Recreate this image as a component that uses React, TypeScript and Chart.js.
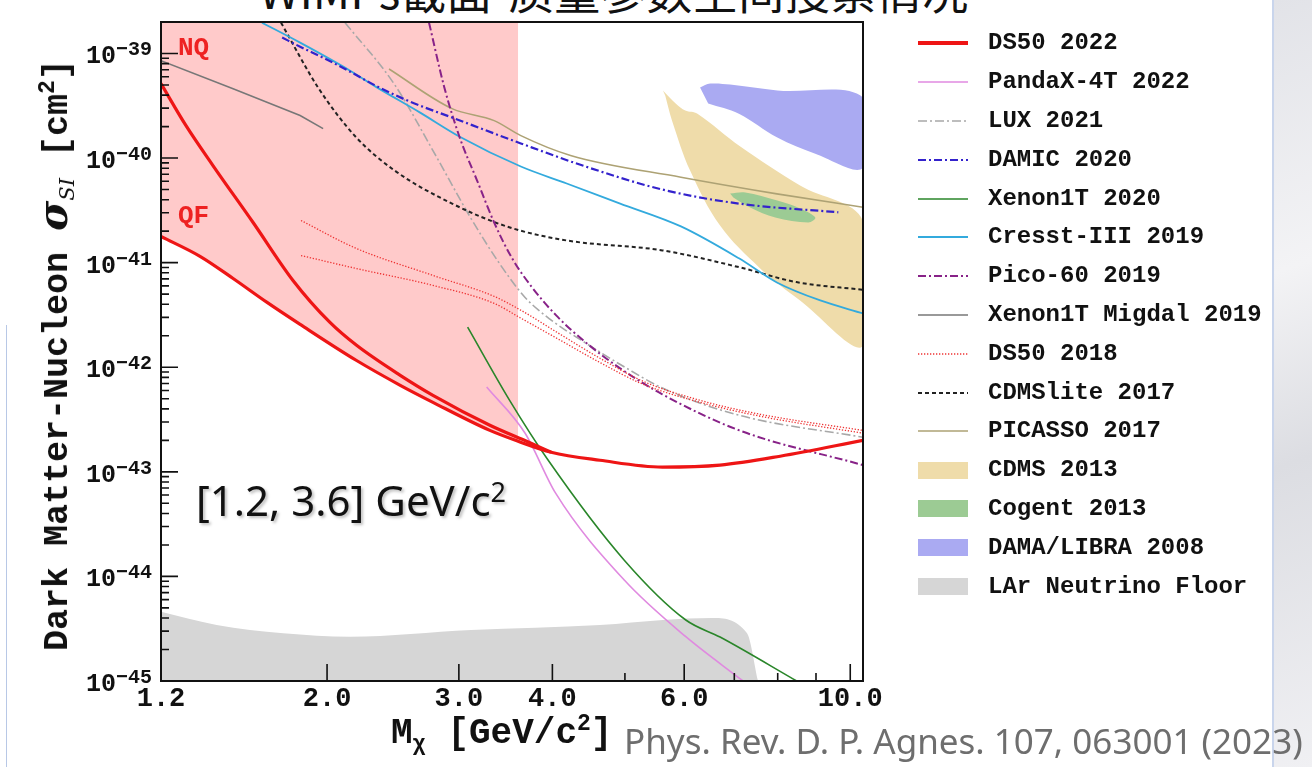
import React, { useEffect, useRef } from "react";
import { Chart, registerables } from "chart.js";

Chart.register(...registerables);

// ---------------- axes ----------------
const xTickValues = [1.2, 2.0, 3.0, 4.0, 6.0, 10.0];
const xTickLabels = ["1.2", "2.0", "3.0", "4.0", "6.0", "10.0"];
const xMinorTickValues = [5, 7, 8, 9];
const yDecadeExponents = [-45, -44, -43, -42, -41, -40, -39];
const xMin = 1.2;
const xMax = 10.4;
const yMin = 1e-45;
const yMax = 2e-39;

// ---------------- DS50 2022 (two quenching models) ----------------
const ds50NqMass = [1.2, 1.296, 1.408, 1.593, 1.801, 2.018, 2.19, 2.505, 2.77, 3.3, 3.72, 3.985];
const ds50NqSigma = [5.15e-40, 2.04e-40, 8.48e-41, 2.42e-41, 6.76e-42, 2.68e-42, 1.62e-42, 8.37e-43, 5.39e-43, 2.79e-43, 1.92e-43, 1.54e-43];
const ds50QfMass = [1.2, 1.353, 1.498, 1.663, 1.841, 2.19, 2.505, 2.77, 3.3, 3.6, 3.985, 4.63, 5.61, 6.7, 8.06, 10.4];
const ds50QfSigma = [1.78e-41, 1.15e-41, 7.06e-42, 4.17e-42, 2.57e-42, 1.16e-42, 6.72e-43, 4.62e-43, 2.49e-43, 1.96e-43, 1.54e-43, 1.29e-43, 1.11e-43, 1.16e-43, 1.41e-43, 2.0e-43];
const ds50ShadeMaxMass = 3.6;

// ---------------- other limits ----------------
const pandaxMass = [3.268, 3.678, 4.04, 4.99, 6.03, 7.19];
const pandaxSigma = [6.47e-43, 2.34e-43, 6.25e-44, 9.23e-45, 2.65e-45, 1e-45];

const luxMass = [2.114, 2.462, 2.77, 3.115, 3.406, 3.678, 3.973, 4.44, 5.003, 5.62, 7.11, 10.4];
const luxSigma = [1.97e-39, 5.04e-40, 1.18e-40, 2.64e-41, 9.61e-42, 4.65e-42, 2.87e-42, 1.69e-42, 9.97e-43, 6.29e-43, 3.47e-43, 2.14e-43];

const damicMass = [1.742, 1.841, 1.988, 2.147, 2.322, 2.582, 2.938, 3.63, 4.43, 5.61, 7.1, 9.64];
const damicSigma = [1.42e-39, 1.16e-39, 8.92e-40, 6.7e-40, 4.93e-40, 3.46e-40, 2.44e-40, 1.38e-40, 8.3e-41, 5.0e-41, 3.67e-41, 3.03e-41];

const xenon1tMass = [3.082, 3.507, 3.949, 4.99, 6.03, 6.7, 8.48];
const xenon1tSigma = [2.42e-42, 4.83e-43, 1.29e-43, 1.43e-44, 3.83e-45, 2.63e-45, 1e-45];

const cresstMass = [1.637, 1.841, 2.147, 2.322, 2.663, 3.008, 3.63, 4.18, 4.927, 5.94, 7.1, 7.98, 9.12, 10.4];
const cresstSigma = [1.97e-39, 1.27e-39, 6.85e-40, 4.82e-40, 2.72e-40, 1.6e-40, 8.3e-41, 5.71e-41, 3.67e-41, 2.22e-41, 1.1e-41, 6.47e-42, 4.35e-42, 3.27e-42];

const picoMass = [2.737, 2.867, 3.008, 3.173, 3.344, 3.534, 3.758, 4.047, 4.397, 4.927, 5.61, 7.11, 10.4];
const picoSigma = [1.97e-39, 4.82e-40, 1.57e-40, 6.1e-41, 2.42e-41, 1.1e-41, 5.8e-42, 3.13e-42, 1.81e-42, 9.76e-43, 5.51e-43, 2.49e-43, 1.16e-43];

const migdalMass = [1.2, 1.498, 1.841, 1.976];
const migdalSigma = [8.53e-40, 4.61e-40, 2.55e-40, 1.91e-40];

const ds50_2018Mass = [1.846, 2.187, 2.77, 3.344, 3.635, 4.1, 4.63, 5.29, 6.3, 7.58, 10.4];
const ds50_2018SigmaA = [2.53e-41, 1.37e-41, 7.55e-42, 4.76e-42, 3.49e-42, 2.06e-42, 1.22e-42, 7.33e-43, 4.83e-43, 3.55e-43, 2.49e-43];
const ds50_2018SigmaB = [1.17e-41, 8.8e-42, 6.06e-42, 4.08e-42, 2.93e-42, 1.81e-42, 1.11e-42, 6.87e-43, 4.62e-43, 3.4e-43, 2.34e-43];

const cdmsliteMass = [1.736, 1.945, 2.187, 2.462, 2.938, 3.502, 4.18, 5.61, 7.1, 8.47, 10.4];
const cdmsliteSigma = [1.97e-39, 4.74e-40, 1.58e-40, 7.6e-41, 3.67e-41, 2.18e-41, 1.63e-41, 1.31e-41, 9.06e-42, 6.52e-42, 5.5e-42];

const picassoMass = [2.42, 2.938, 3.344, 3.63, 4.23, 5.94, 7.98, 10.4];
const picassoSigma = [7.11e-40, 2.97e-40, 2.28e-40, 1.64e-40, 1.06e-40, 6.56e-41, 4.55e-41, 3.39e-41];

// ---------------- contour regions (closed outlines) ----------------
const cdms2013Mass = [5.62, 5.85, 6.02, 6.25, 7.13, 8.57, 10.4, 10.4, 8.57, 7.58, 6.7, 6.11, 5.78, 5.66];
const cdms2013Sigma = [4.42e-40, 3.31e-40, 2.85e-40, 2.66e-40, 1.29e-40, 5.46e-41, 2.5e-41, 1.6e-42, 4.35e-42, 8.81e-42, 2.26e-41, 7.6e-41, 2.28e-40, 3.96e-40];

const cogentMass = [6.91, 7.24, 7.99, 8.57, 8.98, 8.79, 7.94, 7.35, 6.98];
const cogentSigma = [4.58e-41, 4.69e-41, 3.93e-41, 3.3e-41, 2.7e-41, 2.42e-41, 2.7e-41, 3.37e-41, 4.2e-41];

const damaMass = [6.3, 6.5, 6.91, 7.99, 10.4, 10.4, 8.98, 7.99, 7.1, 6.46];
const damaSigma = [4.74e-40, 5.15e-40, 5.04e-40, 4.42e-40, 3.79e-40, 8.1e-41, 1.1e-40, 1.57e-40, 2.66e-40, 3.33e-40];

const larFloorMass = [1.2, 1.424, 1.748, 2.147, 3.115, 4.63, 5.62, 6.54, 7.28, 7.53];
const larFloorSigma = [4.59e-45, 3.43e-45, 2.86e-45, 2.65e-45, 3.07e-45, 3.43e-45, 3.83e-45, 4.0e-45, 2.86e-45, 1e-45];

// ---------------- legend ----------------
const legendLabels = [
  "DS50 2022", "PandaX-4T 2022", "LUX 2021", "DAMIC 2020", "Xenon1T 2020", "Cresst-III 2019",
  "Pico-60 2019", "Xenon1T Migdal 2019", "DS50 2018", "CDMSlite 2017", "PICASSO 2017",
  "CDMS 2013", "Cogent 2013", "DAMA/LIBRA 2008", "LAr Neutrino Floor",
];

// styles (kept apart from the data)
const ST: Record<string, any> = {
  "DS50 2022": { color: "#EE1515", width: 3.2, dash: [], legendWidth: 4 },
  "PandaX-4T 2022": { color: "#E08AE0", width: 1.6, dash: [] },
  "LUX 2021": { color: "#A8A8A8", width: 1.6, dash: [9, 3, 2, 3] },
  "DAMIC 2020": { color: "#3322CC", width: 2.2, dash: [8, 3, 2, 3] },
  "Xenon1T 2020": { color: "#2A862A", width: 1.6, dash: [] },
  "Cresst-III 2019": { color: "#33AADD", width: 1.8, dash: [] },
  "Pico-60 2019": { color: "#882288", width: 2, dash: [8, 3, 2, 3] },
  "Xenon1T Migdal 2019": { color: "#777777", width: 1.6, dash: [] },
  "DS50 2018": { color: "#EE3333", width: 1.3, dash: [1.3, 1.7] },
  "CDMSlite 2017": { color: "#222222", width: 2, dash: [4, 3] },
  "PICASSO 2017": { color: "#ADA274", width: 1.6, dash: [] },
  "CDMS 2013": { box: true, color: "#EFDCAA" },
  "Cogent 2013": { box: true, color: "#9CCB94" },
  "DAMA/LIBRA 2008": { box: true, color: "#AAAAF2" },
  "LAr Neutrino Floor": { box: true, color: "#D6D6D6" },
};

const pts = (xs: number[], ys: number[]) => xs.map((x, i) => ({ x, y: ys[i] }));

function lineDs(label: string, xs: number[], ys: number[], order = 0, mode = "monotone") {
  const s = ST[label];
  return {
    label,
    data: pts(xs, ys),
    borderColor: s.color,
    borderWidth: s.width,
    borderDash: s.dash,
    pointRadius: 0,
    fill: false,
    cubicInterpolationMode: mode,
    tension: mode === "monotone" ? 0.4 : 0,
    capBezierPoints: false,
    order,
  };
}

function areaDs(label: string, xs: number[], ys: number[], fill: any, color: string, order: number, monotone: boolean) {
  return {
    label,
    data: pts(xs, ys),
    borderColor: "transparent",
    borderWidth: 0,
    backgroundColor: color,
    pointRadius: 0,
    fill,
    cubicInterpolationMode: monotone ? "monotone" : "default",
    tension: 0.35,
    capBezierPoints: false,
    order,
  };
}

const axisDecor = {
  id: "axisDecor",
  afterDraw(chart: any) {
    const { ctx, chartArea: a, scales } = chart;
    const x = scales.x;
    const y = scales.y;
    ctx.save();
    ctx.strokeStyle = "#111";
    ctx.lineWidth = 1.6;
    ctx.beginPath();
    for (const v of xTickValues) {
      if (v === xMin) continue;
      const px = x.getPixelForValue(v);
      ctx.moveTo(px, a.bottom);
      ctx.lineTo(px, a.bottom - 17);
    }
    for (const v of xMinorTickValues) {
      const px = x.getPixelForValue(v);
      ctx.moveTo(px, a.bottom);
      ctx.lineTo(px, a.bottom - 8);
    }
    for (const n of yDecadeExponents) {
      const py = y.getPixelForValue(Math.pow(10, n));
      ctx.moveTo(a.left, py);
      ctx.lineTo(a.left + 17, py);
      for (let k = 2; k <= 9; k++) {
        const v = k * Math.pow(10, n);
        if (v >= yMax) break;
        const pm = y.getPixelForValue(v);
        ctx.moveTo(a.left, pm);
        ctx.lineTo(a.left + 8, pm);
      }
    }
    ctx.stroke();
    ctx.lineWidth = 2;
    ctx.strokeRect(a.left, a.top, a.right - a.left, a.bottom - a.top);

    ctx.fillStyle = "#111";
    // x tick labels
    ctx.font = 'bold 27px "Liberation Mono"';
    ctx.textAlign = "center";
    ctx.textBaseline = "alphabetic";
    xTickValues.forEach((v, i) => {
      ctx.fillText(xTickLabels[i], x.getPixelForValue(v), a.bottom + 25);
    });
    // y tick labels 10^n
    ctx.textAlign = "right";
    const rightX = a.left - 9;
    for (const n of yDecadeExponents) {
      const py = y.getPixelForValue(Math.pow(10, n));
      const exp = "\u2212" + String(-n);
      ctx.font = 'bold 20px "Liberation Mono"';
      const w = ctx.measureText(exp).width;
      ctx.fillText(exp, rightX, py + 2);
      ctx.font = 'bold 25px "Liberation Mono"';
      ctx.fillText("10", rightX - w, py + 10);
    }
    ctx.restore();
  },
};

export default function App() {
  const canvasRef = useRef<HTMLCanvasElement>(null);

  useEffect(() => {
    const shadeIdx = ds50QfMass.map((m, i) => i).filter((i) => ds50QfMass[i] <= ds50ShadeMaxMass);
    const datasets: any[] = [
      lineDs("DS50 2022", ds50NqMass, ds50NqSigma, -2),
      lineDs("DS50 2022", ds50QfMass, ds50QfSigma, -2),
      lineDs("PandaX-4T 2022", pandaxMass, pandaxSigma, 1),
      lineDs("LUX 2021", luxMass, luxSigma, 3),
      lineDs("DAMIC 2020", damicMass, damicSigma, 1),
      lineDs("Xenon1T 2020", xenon1tMass, xenon1tSigma, 1),
      lineDs("Cresst-III 2019", cresstMass, cresstSigma, 2),
      lineDs("Pico-60 2019", picoMass, picoSigma, 1),
      lineDs("Xenon1T Migdal 2019", migdalMass, migdalSigma, 1, "default"),
      lineDs("DS50 2018", ds50_2018Mass, ds50_2018SigmaA, 0),
      lineDs("DS50 2018", ds50_2018Mass, ds50_2018SigmaB, 0),
      lineDs("CDMSlite 2017", cdmsliteMass, cdmsliteSigma, 2),
      lineDs("PICASSO 2017", picassoMass, picassoSigma, 2),
      areaDs("DS50 2022 region", shadeIdx.map((i) => ds50QfMass[i]), shadeIdx.map((i) => ds50QfSigma[i]), "end", "#FFCACA", 20, true),
      areaDs("LAr Neutrino Floor", larFloorMass, larFloorSigma, "start", ST["LAr Neutrino Floor"].color, 19, true),
      areaDs("CDMS 2013", cdms2013Mass, cdms2013Sigma, "shape", ST["CDMS 2013"].color, 18, false),
      areaDs("DAMA/LIBRA 2008", damaMass, damaSigma, "shape", ST["DAMA/LIBRA 2008"].color, 17, false),
      areaDs("Cogent 2013", cogentMass, cogentSigma, "shape", ST["Cogent 2013"].color, 16, false),
    ];

    const chart = new Chart(canvasRef.current as HTMLCanvasElement, {
      type: "line",
      data: { datasets },
      options: {
        animation: false,
        responsive: false,
        devicePixelRatio: 1,
        layout: { padding: { left: 161, top: 22, right: 449, bottom: 86 } },
        plugins: { legend: { display: false }, tooltip: { enabled: false } },
        scales: {
          x: {
            type: "logarithmic",
            min: xMin,
            max: xMax,
            grid: { display: false },
            border: { display: false },
            ticks: { display: false },
            afterFit: (scale: any) => {
              scale.height = 0;
            },
          },
          y: {
            type: "logarithmic",
            min: yMin,
            max: yMax,
            grid: { display: false },
            border: { display: false },
            ticks: { display: false },
            afterFit: (scale: any) => {
              scale.width = 0;
            },
          },
        },
      } as any,
      plugins: [axisDecor],
    });
    return () => chart.destroy();
  }, []);

  const mono = '"Liberation Mono", "DejaVu Sans Mono", monospace';

  return (
    <div style={{ position: "fixed", left: 0, top: 0, width: 1312, height: 767, background: "#ffffff", overflow: "hidden" }}>
      <div style={{ position: "absolute", left: 1272, top: 0, width: 40, height: 767, background: "linear-gradient(160deg, #e2e3e8 0%, #f3f3f5 35%, #dcdde2 60%, #f0f0f3 100%)", borderLeft: "2px solid #c9d5ec" }} />
      <div style={{ position: "absolute", left: 6, top: 325, width: 1, height: 442, background: "#b8c8e6" }} />
      <div style={{ position: "absolute", left: 259, top: -34, fontFamily: '"Noto Sans CJK SC", sans-serif', fontSize: 46, lineHeight: "46px", whiteSpace: "nowrap", color: "#111" }}>
        WIMPs截面-质量参数空间搜索情况
      </div>

      <canvas ref={canvasRef} width={1312} height={767} style={{ position: "absolute", left: 0, top: 0, width: 1312, height: 767 }} />

      {/* axis titles */}
      <div style={{ position: "absolute", left: 57, top: 355, transform: "translate(-50%,-50%) rotate(-90deg)", whiteSpace: "nowrap", fontFamily: mono, fontWeight: "bold", fontSize: 35, lineHeight: "40px", color: "#111" }}>
        Dark Matter-Nucleon{" "}
        <span style={{ fontFamily: '"DejaVu Serif", serif', fontStyle: "italic", fontWeight: "bold", fontSize: 41 }}>σ</span>
        <span style={{ fontFamily: '"DejaVu Serif", serif', fontStyle: "italic", fontWeight: "normal", fontSize: 21, position: "relative", top: 7 }}>SI</span>
        {" "}[cm<span style={{ fontSize: 23, position: "relative", top: -13 }}>2</span>]
      </div>
      <div style={{ position: "absolute", left: 391, top: 716, whiteSpace: "nowrap", fontFamily: mono, fontWeight: "bold", fontSize: 36, lineHeight: "36px", color: "#111" }}>
        M<span style={{ fontSize: 22, position: "relative", top: 7 }}>χ</span> [GeV/c<span style={{ fontSize: 23, position: "relative", top: -13 }}>2</span>]
      </div>

      {/* in-plot labels */}
      <div style={{ position: "absolute", left: 178, top: 35, fontFamily: mono, fontWeight: "bold", fontSize: 26, lineHeight: "26px", color: "#EE2222" }}>NQ</div>
      <div style={{ position: "absolute", left: 178, top: 203, fontFamily: mono, fontWeight: "bold", fontSize: 26, lineHeight: "26px", color: "#EE2222" }}>QF</div>
      <div style={{ position: "absolute", left: 196, top: 479, fontFamily: '"Noto Sans", sans-serif', fontSize: 42, lineHeight: "42px", whiteSpace: "nowrap", color: "#111", textShadow: "2px 2px 3px rgba(0,0,0,0.25)" }}>
        [1.2, 3.6] GeV/c<span style={{ fontSize: 27, position: "relative", top: -14 }}>2</span>
      </div>
      <div style={{ position: "absolute", left: 624, top: 723, fontFamily: '"Noto Sans", sans-serif', fontSize: 35, lineHeight: "35px", whiteSpace: "nowrap", color: "#6E6E6E" }}>
        Phys. Rev. D. P. Agnes. 107, 063001 (2023)
      </div>

      {/* legend */}
      {legendLabels.map((lab, i) => {
        const s = ST[lab];
        const cy = 42.3 + 38.8 * i;
        return (
          <div key={lab} style={{ position: "absolute", left: 918, top: cy - 11, height: 24, display: "flex", alignItems: "center", whiteSpace: "nowrap" }}>
            {s.box ? (
              <div style={{ width: 50, height: 17, background: s.color }} />
            ) : (
              <svg width={50} height={10} style={{ display: "block" }}>
                <line x1={0} y1={5} x2={50} y2={5} stroke={s.color} strokeWidth={s.legendWidth || s.width} strokeDasharray={s.dash.length ? s.dash.join(" ") : undefined} />
              </svg>
            )}
            <span style={{ marginLeft: 20, fontFamily: mono, fontWeight: "bold", fontSize: 24, lineHeight: "24px", color: "#111" }}>{lab}</span>
          </div>
        );
      })}
    </div>
  );
}
